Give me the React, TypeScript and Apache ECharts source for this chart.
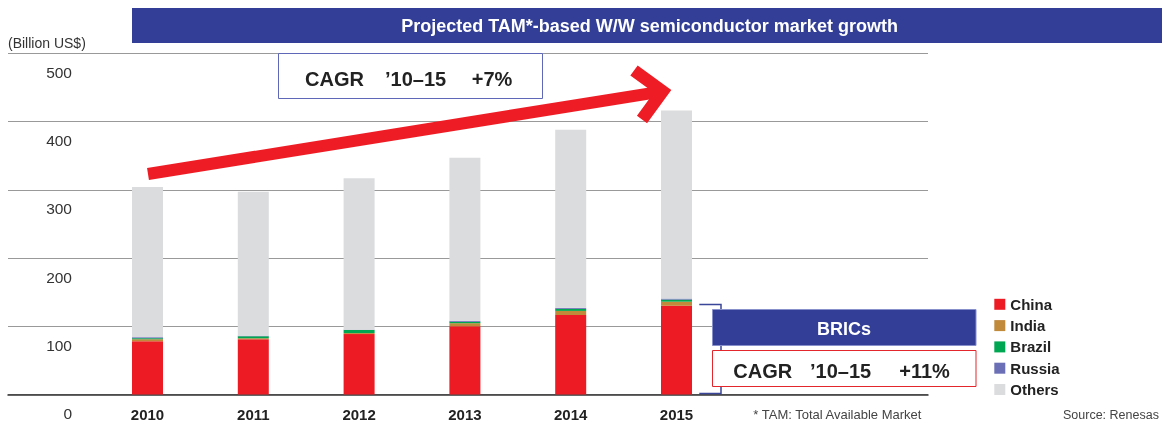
import React, { useEffect, useRef } from "react";
import * as echarts from "echarts";

const years = ["2010", "2011", "2012", "2013", "2014", "2015"];
const china = [78, 81, 88.5, 100, 116.5, 130];
const india = [3, 1.5, 1.5, 4.5, 6, 6];
const brazil = [1.5, 3, 4.5, 2, 3, 3];
const russia = [1.5, 0.5, 0.5, 1.5, 1.5, 1.5];
const others = [220, 211, 222, 239, 261, 275.5];
const yMin = 0;
const yMax = 500;
const yStep = 100;

const seriesDefs = [
  { name: "China", data: china, color: "#ed1c24" },
  { name: "India", data: india, color: "#c18a3b" },
  { name: "Brazil", data: brazil, color: "#00a651" },
  { name: "Russia", data: russia, color: "#6b6fb5" },
  { name: "Others", data: others, color: "#dbdcde" },
];

const FONT = "'Liberation Sans', Arial, Helvetica, sans-serif";

const txt = (x: number, y: number, text: string, size: number, weight: string, fill: string, align = "left") => ({
  type: "text",
  x,
  y,
  z: 30,
  style: { text, fontSize: size, fontWeight: weight, fontFamily: FONT, fill, align, verticalAlign: "middle" },
});

export default function App() {
  const ref = useRef<HTMLDivElement>(null);
  useEffect(() => {
    if (!ref.current) return;
    const chart = echarts.init(ref.current, undefined, { renderer: "svg" });
    const navy = "#333f97";
    const option: any = {
      animation: false,
      textStyle: { fontFamily: FONT },
      grid: [
        { left: 8, top: 53.3, width: 920, bottom: 27.5 },
        { left: 94.6, top: 53.3, width: 634.8, bottom: 27.5 },
      ],
      xAxis: [
        {
          gridIndex: 0,
          type: "value",
          min: 0,
          max: 1,
          axisLine: { show: true, lineStyle: { color: "#333", width: 1.5 } },
          axisTick: { show: false },
          axisLabel: { show: false },
          splitLine: { show: false },
        },
        {
          gridIndex: 1,
          type: "category",
          data: years,
          axisLine: { show: false },
          axisTick: { show: false },
          axisLabel: { fontSize: 15, fontWeight: "bold", color: "#222", margin: 12 },
        },
      ],
      yAxis: [
        {
          gridIndex: 0,
          type: "value",
          min: yMin,
          max: yMax,
          interval: yStep,
          axisLine: { show: false },
          axisTick: { show: false },
          splitLine: { lineStyle: { color: "#999", width: 1 } },
          axisLabel: {
            inside: true,
            margin: 64,
            align: "right",
            verticalAlign: "top",
            padding: [11, 0, 0, 0],
            fontSize: 15.5,
            color: "#333",
          },
        },
        { gridIndex: 1, type: "value", min: yMin, max: yMax, show: false },
      ],
      legend: {
        orient: "vertical",
        left: 994.3,
        top: 296.8,
        padding: 0,
        itemWidth: 11,
        itemHeight: 11,
        itemGap: 6.3,
        icon: "rect",
        selectedMode: false,
        textStyle: { fontSize: 15, fontWeight: "bold", color: "#222", lineHeight: 15 },
        data: seriesDefs.map((s) => s.name),
      },
      series: seriesDefs.map((s) => ({
        type: "bar",
        name: s.name,
        stack: "total",
        xAxisIndex: 1,
        yAxisIndex: 1,
        barWidth: 31,
        data: s.data,
        itemStyle: { color: s.color },
        emphasis: { disabled: true },
      })),
      graphic: [
        { type: "rect", z: 20, shape: { x: 132, y: 8, width: 1030, height: 35 }, style: { fill: navy } },
        txt(649.5, 25.5, "Projected TAM*-based W/W semiconductor market growth", 18, "bold", "#fff", "center"),
        txt(8, 43, "(Billion US$)", 14, "normal", "#333"),
        { type: "rect", z: 20, shape: { x: 278.5, y: 53.5, width: 264, height: 45 }, style: { fill: "#fff", stroke: "#5f68b8", lineWidth: 1 } },
        txt(305, 78.5, "CAGR", 20, "bold", "#222"),
        txt(385, 78.5, "’10–15", 20, "bold", "#222"),
        txt(471.7, 78.5, "+7%", 20, "bold", "#222"),
        { type: "line", z: 20, shape: { x1: 148, y1: 174, x2: 662.6, y2: 91.3 }, style: { stroke: "#ee1d25", lineWidth: 12, lineCap: "butt" } },
        { type: "polyline", z: 20, shape: { points: [[634, 70.5], [662.6, 91.3], [642, 119.5]] }, style: { stroke: "#ee1d25", fill: null, lineWidth: 12.5, lineJoin: "miter" } },
        { type: "polyline", z: 20, shape: { points: [[699.3, 304.5], [721, 304.5], [721, 393.5], [699.3, 393.5]] }, style: { stroke: "#3a4699", fill: null, lineWidth: 1.5 } },
        { type: "rect", z: 21, shape: { x: 712.5, y: 309.5, width: 263.5, height: 36 }, style: { fill: navy, stroke: "#8890cc", lineWidth: 1 } },
        txt(844, 328.5, "BRICs", 18, "bold", "#fff", "center"),
        { type: "rect", z: 21, shape: { x: 712.5, y: 350.5, width: 263.5, height: 36 }, style: { fill: "#fff", stroke: "#e3262c", lineWidth: 1 } },
        txt(733.3, 370.5, "CAGR", 20, "bold", "#222"),
        txt(810, 370.5, "’10–15", 20, "bold", "#222"),
        txt(899.3, 370.5, "+11%", 20, "bold", "#222"),
        txt(753.3, 414.5, "* TAM: Total Available Market", 13, "normal", "#444"),
        txt(1063, 414.5, "Source: Renesas", 12.5, "normal", "#444"),
      ],
    };
    chart.setOption(option);
    return () => chart.dispose();
  }, []);
  return <div ref={ref} style={{ position: "fixed", left: 0, top: 0, width: 1162, height: 422 }} />;
}
